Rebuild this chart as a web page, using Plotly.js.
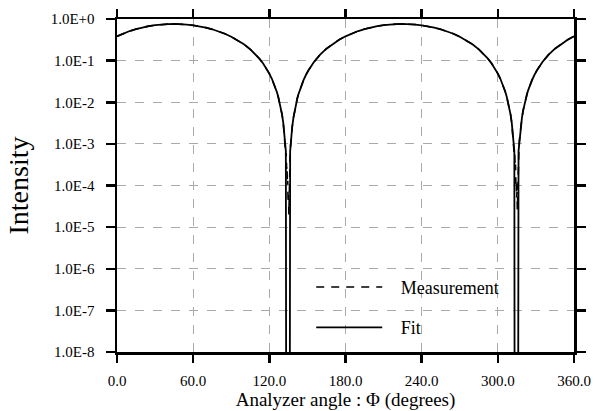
<!DOCTYPE html>
<html>
<head>
<meta charset="utf-8">
<script src="https://cdn.plot.ly/plotly-3.0.1.min.js"></script>
<style>html,body{margin:0;padding:0;background:#fff;}#chart{width:595px;height:411px;}</style>
</head>
<body>
<div id="chart"></div>
<script>
// Analyzer angle (degrees) for the fit curve
var fitAngle = [0,5,10,15,20,25,30,35,40,45,50,55,60,65,70,75,80,85,90,95,100,105,110,112,115,118,120,122,124,125,126,127,128,129,130,131,132,133,133.4,
  136.0,136.4,137,138,139,140,141,142,143,144,145,147,149,151,155,160,165,170,175,
  180,185,190,195,200,205,210,215,220,225,230,235,240,245,250,255,260,265,270,275,280,285,290,292,295,298,300,302,304,305,306,307,308,309,310,311,312,313,313.3,
  315.9,316.3,317,318,319,320,321,322,323,324,325,327,329,331,335,340,345,350,355,360];
// Fit intensity
var fitValue = [0.384,0.450,0.514,0.573,0.627,0.674,0.711,0.738,0.755,0.760,0.754,0.736,0.707,0.669,0.621,0.567,0.506,0.442,0.376,0.310,0.246,0.187,0.133,0.113,0.0864,0.0628,0.0489,0.0367,0.0262,0.0216,0.0174,0.0136,0.0103,0.0075,0.0051,0.00316,0.00169,0.00067,1e-12,
  1e-12,0.00067,0.00122,0.00252,0.00427,0.00648,0.00915,0.0123,0.0158,0.0199,0.0243,0.0345,0.0464,0.0599,0.0915,0.139,0.194,0.254,0.318,
  0.384,0.450,0.514,0.573,0.627,0.674,0.711,0.738,0.755,0.760,0.754,0.736,0.707,0.669,0.621,0.567,0.506,0.442,0.376,0.310,0.246,0.187,0.133,0.113,0.0864,0.0628,0.0489,0.0367,0.0262,0.0216,0.0174,0.0136,0.0103,0.0075,0.0051,0.00316,0.00169,0.00067,1e-12,
  1e-12,0.00067,0.00122,0.00252,0.00427,0.00648,0.00915,0.0123,0.0158,0.0199,0.0243,0.0345,0.0464,0.0599,0.0915,0.139,0.194,0.254,0.318,0.384];
// Analyzer angle (degrees) for the measurement
var measAngle = [0,5,10,15,20,25,30,35,40,45,50,55,60,65,70,75,80,85,90,95,100,105,110,112,115,118,120,122,124,125,126,127,128,129,130,131,132,132.5,133,133.3,133.6,133.9,134.2,134.5,134.8,135.1,135.4,135.7,136.0,136.3,136.6,137,138,139,140,141,142,143,144,145,147,149,151,155,160,165,170,175,
  180,185,190,195,200,205,210,215,220,225,230,235,240,245,250,255,260,265,270,275,280,285,290,292,295,298,300,302,304,305,306,307,308,309,310,311,312,312.5,313,313.3,313.6,313.9,314.2,314.5,314.8,315.1,315.4,315.7,316.0,316.3,316.6,317,318,319,320,321,322,323,324,325,327,329,331,335,340,345,350,355,360];
// Measured intensity
var measValue = [0.384,0.450,0.514,0.573,0.627,0.674,0.711,0.738,0.755,0.760,0.754,0.736,0.707,0.669,0.621,0.567,0.506,0.442,0.376,0.310,0.246,0.187,0.133,0.113,0.0864,0.0628,0.0489,0.0367,0.0262,0.0216,0.0174,0.0136,0.0103,0.0075,0.0051,0.00316,0.0015,0.0010,0.00050,0.00060,0.00025,0.00030,0.00010,0.00013,0.00004,0.00006,0.00002,0.00015,0.00012,0.00040,0.00080,0.00122,0.00252,0.00427,0.00648,0.00915,0.0123,0.0158,0.0199,0.0243,0.0345,0.0464,0.0599,0.0915,0.139,0.194,0.254,0.318,
  0.384,0.450,0.514,0.573,0.627,0.674,0.711,0.738,0.755,0.760,0.754,0.736,0.707,0.669,0.621,0.567,0.506,0.442,0.376,0.310,0.246,0.187,0.133,0.113,0.0864,0.0628,0.0489,0.0367,0.0262,0.0216,0.0174,0.0136,0.0103,0.0075,0.0051,0.00316,0.0015,0.0010,0.00052,0.00058,0.00026,0.00032,0.00011,0.00014,0.00005,0.00007,0.000025,0.00012,0.00010,0.00038,0.00078,0.00122,0.00252,0.00427,0.00648,0.00915,0.0123,0.0158,0.0199,0.0243,0.0345,0.0464,0.0599,0.0915,0.139,0.194,0.254,0.318,0.384];

var xTickVals = [0,60,120,180,240,300,360];
var xTickText = ['0.0','60.0','120.0','180.0','240.0','300.0','360.0'];
var yTickVals = [1e-8,1e-7,1e-6,1e-5,1e-4,1e-3,1e-2,1e-1,1];
var yTickText = ['1.0E-8','1.0E-7','1.0E-6','1.0E-5','1.0E-4','1.0E-3','1.0E-2','1.0E-1','1.0E+0'];
var seriesNames = ['\u00A0\u00A0\u00A0Measurement', '\u00A0\u00A0\u00A0Fit'];

var serif = 'Liberation Serif';

var traces = [
  {x: measAngle, y: measValue, type: 'scatter', mode: 'lines', name: seriesNames[0],
   legendgroup: 'm', line: {color: '#000', width: 1.6, dash: '8px,7px'}},
  {x: fitAngle, y: fitValue, type: 'scatter', mode: 'lines', name: seriesNames[1],
   legendgroup: 'f', line: {color: '#000', width: 1.8}}
];

var layout = {
  width: 595, height: 411,
  margin: {l: 117, r: 21, t: 19, b: 59},
  paper_bgcolor: '#fff', plot_bgcolor: '#fff',
  font: {family: serif, color: '#000', size: 15},
  showlegend: true,
  legend: {x: 0.425, y: 0.25, xanchor: 'left', yanchor: 'top', bgcolor: 'rgba(0,0,0,0)',
    font: {family: serif, size: 18, color: '#000'}, traceorder: 'grouped', tracegroupgap: 14,
    itemwidth: 66},
  xaxis: {
    range: [0, 360], tickmode: 'array', tickvals: xTickVals, ticktext: xTickText,
    showline: true, linecolor: '#000', linewidth: 2.5, mirror: 'ticks',
    ticks: 'outside', ticklen: 8, tickwidth: 2.5, tickcolor: '#000',
    showgrid: true, gridcolor: '#aaa', gridwidth: 1, griddash: 'dash',
    zeroline: false, ticklabelstandoff: 5,
    tickfont: {family: serif, size: 15, color: '#000'},
    title: {text: 'Analyzer angle : \u03A6 (degrees)', font: {family: serif, size: 19, color: '#000'}, standoff: 5}
  },
  yaxis: {
    type: 'log', range: [-8, 0], tickmode: 'array', tickvals: yTickVals, ticktext: yTickText,
    showline: true, linecolor: '#000', linewidth: 2.5, mirror: 'ticks',
    ticks: 'outside', ticklen: 9, tickwidth: 2.5, tickcolor: '#000',
    showgrid: true, gridcolor: '#aaa', gridwidth: 1, griddash: 'dash',
    zeroline: false, ticklabelstandoff: 8,
    tickfont: {family: serif, size: 15, color: '#000'},
    title: {text: 'Intensity', font: {family: serif, size: 28, color: '#000'}, standoff: 14}
  }
};

Plotly.newPlot('chart', traces, layout, {displayModeBar: false, staticPlot: true});
</script>
</body>
</html>
